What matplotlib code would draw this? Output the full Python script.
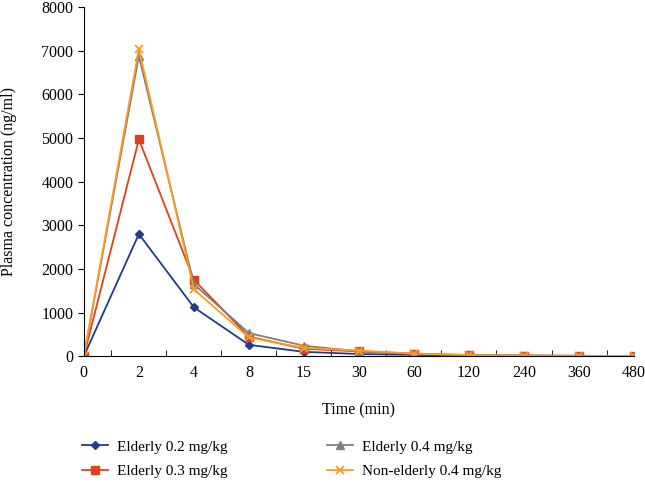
import matplotlib.pyplot as plt
import numpy as np

plt.rcParams['font.family'] = ['Liberation Serif', 'DejaVu Serif']

times = ["0", "2", "4", "8", "15", "30", "60", "120", "240", "360", "480"]
eld_02 = [0, 2800, 1120, 260, 100, 50, 30, 15, 10, 5, 3]
eld_03 = [0, 4970, 1750, 450, 170, 110, 50, 20, 15, 8, 5]
eld_04 = [0, 6880, 1650, 530, 240, 110, 60, 25, 15, 8, 5]
non_eld_04 = [0, 7040, 1530, 430, 190, 130, 60, 25, 15, 8, 5]

fig = plt.figure(figsize=(6.45, 4.82), dpi=100)
ax = fig.add_axes([0.130, 0.261, 0.853, 0.724])

x = np.arange(len(times))
ax.plot(x, eld_02, color='#1f3a8f', marker='D', markersize=4, lw=1.3, label='Elderly 0.2 mg/kg')
ax.plot(x, eld_03, color='#e2401b', marker='s', markersize=5.5, lw=1.3, label='Elderly 0.3 mg/kg')
ax.plot(x, eld_04, color='#7f7f7f', marker='^', markersize=6, lw=1.3, label='Elderly 0.4 mg/kg')
ax.plot(x, non_eld_04, color='#ff9a1f', marker='x', markersize=6, mew=1.3, lw=1.3, label='Non-elderly 0.4 mg/kg')

ax.set_xlim(0, len(times) - 1)
ax.set_ylim(0, 8000)
ax.set_xticks(x)
ax.set_xticklabels(times)
ax.set_xticks(x[:-1] + 0.5, minor=True)
ax.tick_params(axis='x', which='major', length=0, labelsize=11.5, pad=6)
ax.tick_params(axis='x', which='minor', direction='in', length=4)
ax.set_yticks(np.arange(0, 8001, 1000))
ax.tick_params(axis='y', direction='out', length=4, labelsize=11.5)
ax.spines['top'].set_visible(False)
ax.spines['right'].set_visible(False)
ax.set_xlabel('Time (min)', fontsize=11.5, labelpad=16)
ax.set_ylabel('Plasma concentration (ng/ml)', fontsize=11.5)
ax.yaxis.set_label_coords(-0.122, 0.5)

fig.legend(loc='upper left', bbox_to_anchor=(0.118, 0.1), ncol=2, frameon=False,
           fontsize=11, columnspacing=6.5, handlelength=1.7, handletextpad=0.6,
           labelspacing=0.7, borderaxespad=0)

fig.savefig('out.png', dpi=100)
